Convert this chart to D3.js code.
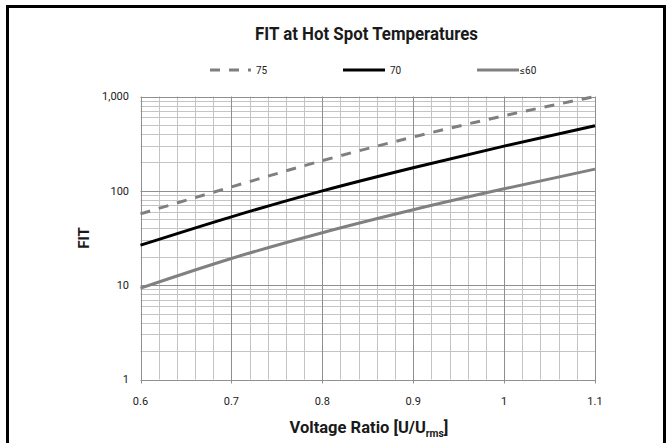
<!DOCTYPE html>
<html>
<head>
<meta charset="utf-8">
<script src="https://cdn.jsdelivr.net/npm/d3@7"></script>
<style>
  body { margin: 0; background: #fff; }
  text { font-family: Roboto, "Noto Sans", sans-serif; fill: #1a1a1a; }
</style>
</head>
<body>
<div id="chart"></div>
<script>
// Data
const voltageRatio = [0.6, 0.7, 0.8, 0.9, 1.0, 1.1];
const fit75 = [57, 110, 209, 372, 625, 1000];
const fit70 = [26.5, 53, 100, 176, 298, 490];
const fit60 = [9.3, 19.2, 36, 63, 105, 170];
const seriesNames = ["75", "70", "\u226460"];
const xTicks = [0.6, 0.7, 0.8, 0.9, 1.0, 1.1];
const yTicks = [1, 10, 100, 1000];

const config = {
  width: 670,
  height: 443,
  plot: { left: 140.5, right: 595, top: 96.5, bottom: 379.5 },
  majorGrid: '#8f8f8f',
  minorGrid: '#c4c4c4'
};

const series = [
  { name: seriesNames[0], values: fit75, color: '#7f7f7f', dash: '10,9' },
  { name: seriesNames[1], values: fit70, color: '#000000', dash: null },
  { name: seriesNames[2], values: fit60, color: '#808080', dash: null }
];

const svg = d3.select("#chart").append("svg")
    .attr("width", config.width)
    .attr("height", config.height);

const x = d3.scaleLinear()
    .domain([0.6, 1.1])
    .range([config.plot.left, config.plot.right]);

const y = d3.scaleLog()
    .domain([1, 1000])
    .range([config.plot.bottom, config.plot.top]);

// squeeze text to a target width, around its anchor point
function squeeze(sel, width) {
  const len = sel.node().getComputedTextLength();
  const ax = +sel.attr("x"), ay = +sel.attr("y");
  const s = width / len;
  sel.attr("transform", `translate(${ax},${ay}) scale(${s},1) translate(${-ax},${-ay})`);
}

function drawGrid() {
  const g = svg.append("g");

  // horizontal lines: 1..9 in each decade
  const minorY = [];
  for (let d = 1; d < 1000; d *= 10) {
    for (let k = 2; k <= 9; k++) minorY.push(d * k);
  }
  g.selectAll(".hminor").data(minorY).enter().append("line")
      .attr("x1", config.plot.left).attr("x2", config.plot.right)
      .attr("y1", d => Math.round(y(d)) + 0.5).attr("y2", d => Math.round(y(d)) + 0.5)
      .attr("stroke", config.minorGrid);

  // vertical minor lines every 0.02
  const minorX = d3.range(0, 26).map(i => +(0.6 + i * 0.02).toFixed(2))
      .filter(v => Math.abs(v * 10 - Math.round(v * 10)) > 1e-6);
  g.selectAll(".vminor").data(minorX).enter().append("line")
      .attr("y1", config.plot.top).attr("y2", config.plot.bottom)
      .attr("x1", d => Math.round(x(d)) + 0.5).attr("x2", d => Math.round(x(d)) + 0.5)
      .attr("stroke", config.minorGrid);

  g.selectAll(".hmajor").data(yTicks).enter().append("line")
      .attr("x1", config.plot.left).attr("x2", config.plot.right)
      .attr("y1", d => Math.round(y(d)) + 0.5).attr("y2", d => Math.round(y(d)) + 0.5)
      .attr("stroke", config.majorGrid);

  g.selectAll(".vmajor").data(xTicks).enter().append("line")
      .attr("y1", config.plot.top).attr("y2", config.plot.bottom + 4)
      .attr("x1", d => Math.round(x(d)) + 0.5).attr("x2", d => Math.round(x(d)) + 0.5)
      .attr("stroke", config.majorGrid);
}

function drawAxes() {
  const fmt = d3.format(",");

  svg.append("g").selectAll("text").data(yTicks).enter().append("text")
      .attr("x", 129).attr("y", d => y(d))
      .attr("dy", "0.35em")
      .attr("text-anchor", "end")
      .style("font-size", "11px")
      .text(d => fmt(d));

  svg.append("g").selectAll("text").data(xTicks).enter().append("text")
      .attr("x", d => x(d)).attr("y", 405)
      .attr("text-anchor", "middle")
      .style("font-size", "11px")
      .text(d => d3.format("")(+d.toFixed(1)));

  svg.append("text")
      .attr("transform", "translate(89,238) rotate(-90)")
      .attr("text-anchor", "middle")
      .style("font-size", "15px")
      .style("font-weight", 700)
      .text("FIT");

  const xt = svg.append("text")
      .attr("x", 369).attr("y", 433)
      .attr("text-anchor", "middle")
      .style("font-size", "16px")
      .style("font-weight", 700);
  xt.append("tspan").text("Voltage Ratio [U/U");
  xt.append("tspan").attr("dy", 4).style("font-size", "10px").text("rms");
  xt.append("tspan").attr("dy", -4).text("]");
  squeeze(xt, 159);
}

function drawLines() {
  const line = d3.line()
      .x((d, i) => x(voltageRatio[i]))
      .y(d => y(d))
      .curve(d3.curveMonotoneX);

  svg.append("g").selectAll("path").data(series).enter().append("path")
      .attr("d", d => line(d.values))
      .attr("fill", "none")
      .attr("stroke", d => d.color)
      .attr("stroke-width", 3)
      .attr("stroke-dasharray", d => d.dash);
}

function drawLegend() {
  const items = [
    { s: series[0], x0: 210, x1: 251, tx: 256 },
    { s: series[1], x0: 343, x1: 385, tx: 390 },
    { s: series[2], x0: 477, x1: 519, tx: 520 }
  ];
  const g = svg.append("g");
  items.forEach(it => {
    g.append("line")
        .attr("x1", it.x0).attr("x2", it.x1)
        .attr("y1", 70).attr("y2", 70)
        .attr("stroke", it.s.color)
        .attr("stroke-width", 3)
        .attr("stroke-dasharray", it.s.dash);
    g.append("text")
        .attr("x", it.tx).attr("y", 70)
        .attr("dy", "0.35em")
        .style("font-size", "10px")
        .text(it.s.name);
  });
}

function drawFrame() {
  svg.append("rect")
      .attr("x", 7.5).attr("y", 6.5)
      .attr("width", 657).attr("height", 450)
      .attr("fill", "none")
      .attr("stroke", "#000")
      .attr("stroke-width", 3);

  const t = svg.append("text")
      .attr("x", 366.5).attr("y", 40)
      .attr("text-anchor", "middle")
      .style("font-size", "18px")
      .style("font-weight", 700)
      .text("FIT at Hot Spot Temperatures");
  squeeze(t, 223);
}

drawGrid();
drawLines();
drawAxes();
drawLegend();
drawFrame();
</script>
</body>
</html>
